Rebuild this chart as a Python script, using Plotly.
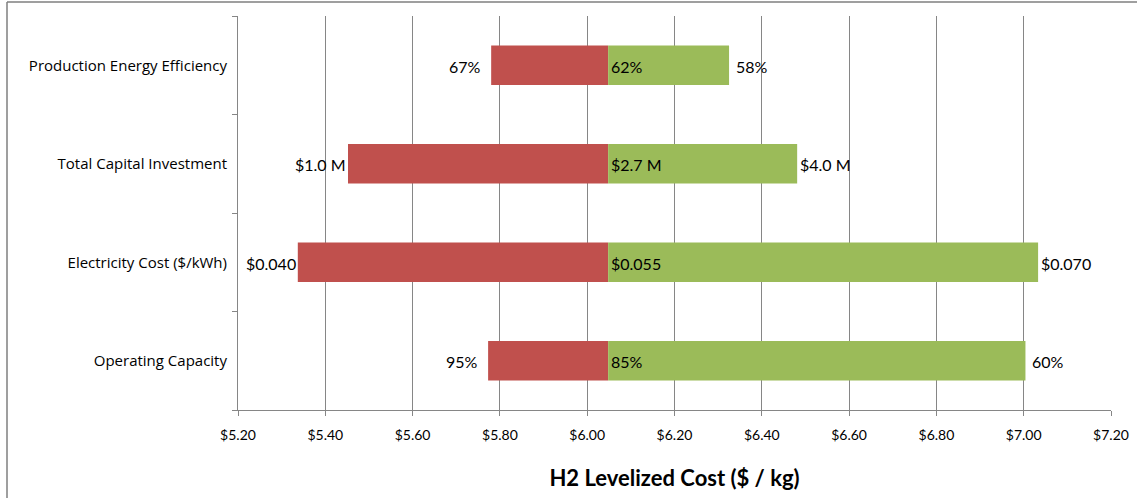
import plotly.graph_objects as go

categories = ["Production Energy Efficiency", "Total Capital Investment",
              "Electricity Cost ($/kWh)", "Operating Capacity"]
base_cost = 6.048
low_cost = [5.780, 5.452, 5.337, 5.773]
high_cost = [6.325, 6.481, 7.033, 7.004]
low_labels = ["67%", "$1.0 M", "$0.040", "95%"]
base_labels = ["62%", "$2.7 M", "$0.055", "85%"]
high_labels = ["58%", "$4.0 M", "$0.070", "60%"]
tick_vals = [5.2, 5.4, 5.6, 5.8, 6.0, 6.2, 6.4, 6.6, 6.8, 7.0, 7.2]
tick_text = ["$5.20", "$5.40", "$5.60", "$5.80", "$6.00", "$6.20",
             "$6.40", "$6.60", "$6.80", "$7.00", "$7.20"]

RED = "#C0504D"
GREEN = "#9BBB59"
GRID = "#868686"
FONT = "Lato"

fig = go.Figure()
fig.add_trace(go.Bar(
    y=categories, x=[v - base_cost for v in low_cost], base=base_cost,
    orientation="h", marker=dict(color=RED, line=dict(width=0)),
    width=0.4, showlegend=False, hoverinfo="skip"))
fig.add_trace(go.Bar(
    y=categories, x=[v - base_cost for v in high_cost], base=base_cost,
    orientation="h", marker=dict(color=GREEN, line=dict(width=0)),
    width=0.4, showlegend=False, hoverinfo="skip"))

lab_font = dict(family=FONT, size=16, color="#000000")
for cat, lo, hi, ll, bl, hl in zip(categories, low_cost, high_cost,
                                    low_labels, base_labels, high_labels):
    pct = ll.endswith("%")
    fig.add_annotation(x=lo, y=cat, text=ll, showarrow=False, xanchor="right",
                       xshift=-8 if pct else 0, yshift=-1, font=lab_font)
    fig.add_annotation(x=base_cost, y=cat, text=bl, showarrow=False,
                       xanchor="left", xshift=1, yshift=-1, font=lab_font)
    fig.add_annotation(x=hi, y=cat, text=hl, showarrow=False, xanchor="left",
                       xshift=5 if hl.endswith("%") else 1, yshift=-1,
                       font=lab_font)

fig.update_layout(
    width=1137, height=498,
    margin=dict(l=238, r=26, t=16, b=88, autoexpand=False),
    paper_bgcolor="white", plot_bgcolor="white",
    barmode="overlay", bargap=0.6,
    font=dict(family=FONT, color="#000000"),
    xaxis=dict(
        range=[5.2, 7.2], tickvals=tick_vals, ticktext=tick_text,
        showgrid=True, gridcolor=GRID, gridwidth=1,
        showline=True, linecolor=GRID, linewidth=1,
        ticks="outside", ticklen=5, tickcolor=GRID,
        tickfont=dict(family=FONT, size=14), zeroline=False,
        ticklabelstandoff=7, automargin=False,
        title=dict(text="<b>H2 Levelized Cost ($ / kg)</b>",
                   font=dict(family=FONT, size=22), standoff=28),
    ),
    yaxis=dict(
        type="category", categoryorder="array",
        categoryarray=categories[::-1],
        showline=True, linecolor=GRID, linewidth=1,
        ticks="outside", ticklen=5, tickcolor=GRID, tickson="boundaries",
        tickfont=dict(family="Open Sans", size=15), showgrid=False,
        zeroline=False, ticklabelstandoff=7, automargin=False,
    ),
)

# outer chart border (top and left edges only)
W, H = 1137, 498
pw, ph = W - 238 - 26, H - 16 - 88
def px_x(p):
    return (p - 238) / pw
def px_y(p):
    return (H - 88 - p) / ph
fig.add_shape(type="line", xref="paper", yref="paper",
              x0=px_x(7), x1=px_x(W), y0=px_y(2), y1=px_y(2),
              line=dict(color="#7F7F7F", width=1.5), layer="below")
fig.add_shape(type="line", xref="paper", yref="paper",
              x0=px_x(7), x1=px_x(7), y0=px_y(2), y1=px_y(H),
              line=dict(color="#7F7F7F", width=1.5), layer="below")

fig.write_html("out.html",
               config={"displayModeBar": False},
               post_script="document.body.style.margin='0';"
                           "document.body.style.overflow='hidden';")
